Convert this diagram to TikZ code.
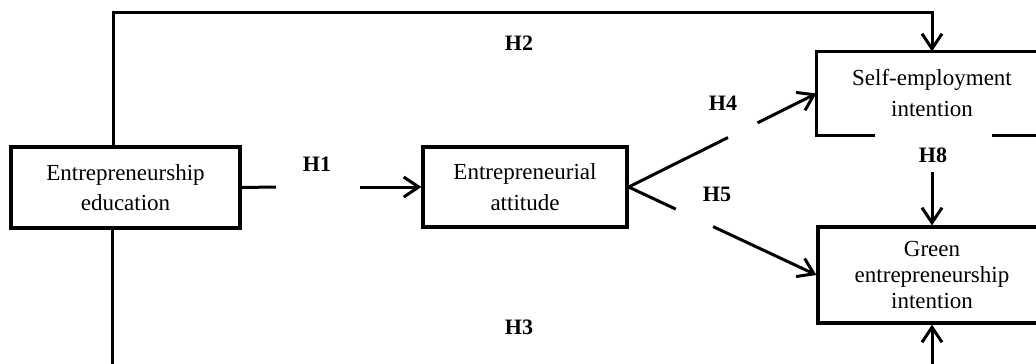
\documentclass[tikz,border=0pt]{standalone}
\usepackage{fontspec}
\setmainfont{Liberation Serif}
\usetikzlibrary{arrows.meta,calc}
\begin{document}
\begin{tikzpicture}[x=1pt,y=-1pt,
  box/.style={draw,line width=3.2pt,inner sep=0pt,align=center,font=\fontsize{23}{30}\selectfont},
  conn/.style={line width=3pt},
  arr/.style={conn,-{Straight Barb[length=15pt,width=20pt]}},
  hlab/.style={font=\fontsize{22}{26}\selectfont\bfseries,inner sep=0pt}]
\useasboundingbox (0,0) rectangle (1036,364);
\clip (0,0) rectangle (1036,364);
% boxes
\node[box,minimum width=229pt,minimum height=81pt] (edu) at (125.5,187.5) {Entrepreneurship\\education};
\node[box,minimum width=204pt,minimum height=80pt,font=\fontsize{23}{31}\selectfont] (att) at (525,187) {Entrepreneurial\\attitude};
\node[box,draw=none,minimum width=228pt,minimum height=81pt,font=\fontsize{23}{31}\selectfont] (se) at (932,93.5) {Self-employment\\intention};
\node[box,minimum width=228pt,minimum height=96pt,font=\fontsize{23}{26}\selectfont] (green) at (932,275) {Green\\entrepreneurship\\intention};
% self-employment border with gap
\draw[line width=3.2pt] ($(se.south west)+(59,0)$) -- (se.south west) -- (se.north west) -- (se.north east) -- (se.south east) -- ($(se.south east)+(-56,0)$);
% H1
\coordinate (h1a) at (276,187);
\coordinate (h1b) at (360,187);
\draw[conn] (edu.east) -- (h1a);
\draw[arr] (h1b) -- (att.west);
% H2
\coordinate (t1) at (113,12);
\draw[arr] (edu.north -| t1) -- (t1) -- (t1 -| se.north) -- (se.north);
% H3
\coordinate (b1) at (112,385);
\draw[arr] (edu.south -| b1) -- (b1) -- (b1 -| green.south) -- (green.south);
% H4
\coordinate (h4a) at ($(att.east)!0.529!(se.west)$);
\coordinate (h4b) at ($(att.east)!0.686!(se.west)$);
\draw[conn] (att.east) -- (h4a);
\draw[arr] (h4b) -- (se.west);
% H5
\coordinate (h5a) at ($(att.east)!0.251!(green.west)$);
\coordinate (h5b) at ($(att.east)!0.450!(green.west)$);
\draw[conn] (att.east) -- (h5a);
\draw[arr] (h5b) -- (green.west);
% H8
\coordinate (h8a) at (932,172);
\draw[arr] (h8a) -- (green.north);
% labels
\node[hlab] (lh1) at (317,164) {H1};
\node[hlab] (lh2) at (519,43) {H2};
\node[hlab] (lh3) at (519,327) {H3};
\node[hlab] (lh4) at (723,103) {H4};
\node[hlab] (lh5) at (717,194) {H5};
\node[hlab] (lh8) at (933,155) {H8};
\end{tikzpicture}
\end{document}
